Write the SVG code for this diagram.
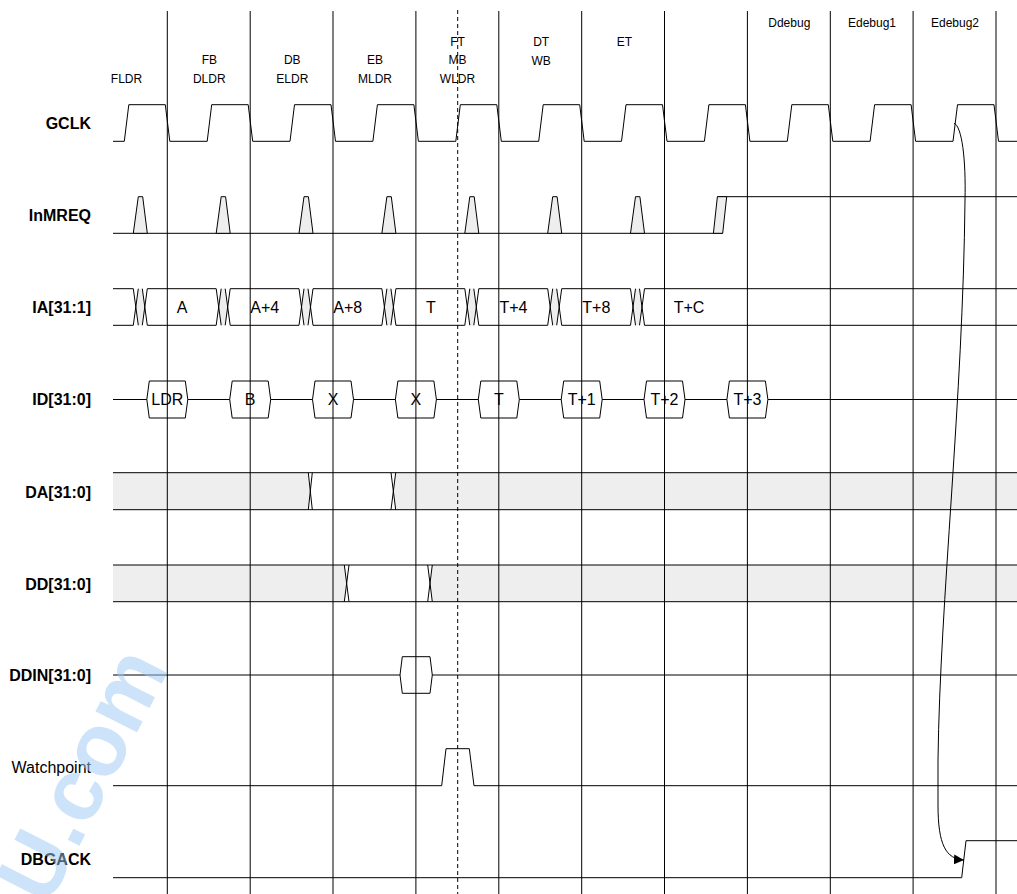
<svg xmlns="http://www.w3.org/2000/svg" xmlns:xlink="http://www.w3.org/1999/xlink" width="1017" height="894" viewBox="0 0 1017 894">
<style>
text{font-family:"Liberation Sans",Arial,Helvetica,sans-serif;fill:#000}
.lbl{font-size:16px;font-weight:bold;text-anchor:end}
.lbln{font-size:16px;text-anchor:end}
.val{font-size:16px;text-anchor:middle}
.top{font-size:12px;text-anchor:middle}
.w{fill:none;stroke:#000;stroke-width:1}
.gx{fill:#eeeeee;stroke:none}
.gp{fill:#eeeeee;stroke:#000;stroke-width:1}
.box{fill:#fff;stroke:#000;stroke-width:1}
.grid line{stroke:#000;stroke-width:1}
.dash{stroke:#000;stroke-width:1;stroke-dasharray:4 3}
.wm{font-size:88px;font-weight:bold;fill:#9bc8f5;opacity:0.5}
</style>
<defs>
<g id="iaX">
<polygon class="gx" points="5,0 9,0 11.5,18.3 9,36.6 5,36.6 2.5,18.3"/>
<path class="w" d="M0,0 L5,36.6 M5,0 L0,36.6 M9,0 L14,36.6 M14,0 L9,36.6"/>
</g>
<polygon id="pulse" class="gp" points="0,36.6 5,0 9.4,0 14,36.6"/>
<polygon id="idbox" class="box" points="0,18.5 2.5,0 38.5,0 41,18.5 38.5,37 2.5,37"/>
<marker id="arr" viewBox="0 0 10 10" refX="10" refY="5" markerWidth="10" markerHeight="10" markerUnits="userSpaceOnUse" orient="auto">
<path d="M0,0 L10,5 L0,10 z" fill="#000"/>
</marker>
</defs>
<rect width="1017" height="894" fill="#fff"/>

<g id="phase-labels">
<text class="top" x="126.5" y="83">FLDR</text>
<text class="top" x="209.3" y="64.2">FB</text>
<text class="top" x="209.3" y="83">DLDR</text>
<text class="top" x="292.3" y="64.2">DB</text>
<text class="top" x="292.3" y="83">ELDR</text>
<text class="top" x="375" y="64.2">EB</text>
<text class="top" x="375" y="83">MLDR</text>
<text class="top" x="457.5" y="45.7">FT</text>
<text class="top" x="457.5" y="64.2">MB</text>
<text class="top" x="457.5" y="83">WLDR</text>
<text class="top" x="541.2" y="45.7">DT</text>
<text class="top" x="541.2" y="64.8">WB</text>
<text class="top" x="624.5" y="45.7">ET</text>
<text class="top" x="789.3" y="27.3">Ddebug</text>
<text class="top" x="872" y="27.3">Edebug1</text>
<text class="top" x="955" y="27.3">Edebug2</text>
</g>

<g id="sig-GCLK">
<text class="lbl" x="91" y="129.3">GCLK</text>
<path class="w" d="M113,141.3 H124.3 L128.8,104.7 H165.3 L169.8,141.3 H207.2 L211.7,104.7 H248.2 L252.7,141.3 H290 L294.5,104.7 H331 L335.5,141.3 H372.9 L377.4,104.7 H413.9 L418.4,141.3 H455.8 L460.3,104.7 H496.8 L501.3,141.3 H538.7 L543.2,104.7 H579.7 L584.2,141.3 H621.5 L626,104.7 H662.5 L667,141.3 H704.4 L708.9,104.7 H745.4 L749.9,141.3 H787.3 L791.8,104.7 H828.3 L832.8,141.3 H870.1 L874.6,104.7 H911.1 L915.6,141.3 H953 L957.5,104.7 H994 L998.5,141.3 H1017"/>
</g>

<g id="sig-InMREQ">
<text class="lbl" x="91" y="221">InMREQ</text>
<path class="w" d="M113,233.3 H722.7 M717.4,196.7 H1017"/>
<use xlink:href="#pulse" href="#pulse" x="133.3" y="196.7"/>
<use xlink:href="#pulse" href="#pulse" x="216.2" y="196.7"/>
<use xlink:href="#pulse" href="#pulse" x="299" y="196.7"/>
<use xlink:href="#pulse" href="#pulse" x="381.9" y="196.7"/>
<use xlink:href="#pulse" href="#pulse" x="464.8" y="196.7"/>
<use xlink:href="#pulse" href="#pulse" x="547.7" y="196.7"/>
<use xlink:href="#pulse" href="#pulse" x="630.5" y="196.7"/>
<polygon class="gp" points="713.4,233.3 717.4,196.7 726.7,196.7 722.7,233.3"/>
</g>

<g id="sig-IA">
<text class="lbl" x="91" y="313.3">IA[31:1]</text>
<path class="w" d="M113,288.7 H133.3 M147.3,288.7 H216.2 M230.2,288.7 H299 M313,288.7 H381.9 M395.9,288.7 H464.8 M478.8,288.7 H547.7 M561.7,288.7 H630.5 M644.5,288.7 H1017 M113,325.3 H133.3 M147.3,325.3 H216.2 M230.2,325.3 H299 M313,325.3 H381.9 M395.9,325.3 H464.8 M478.8,325.3 H547.7 M561.7,325.3 H630.5 M644.5,325.3 H1017"/>
<use xlink:href="#iaX" href="#iaX" x="133.3" y="288.7"/>
<use xlink:href="#iaX" href="#iaX" x="216.2" y="288.7"/>
<use xlink:href="#iaX" href="#iaX" x="299" y="288.7"/>
<use xlink:href="#iaX" href="#iaX" x="381.9" y="288.7"/>
<use xlink:href="#iaX" href="#iaX" x="464.8" y="288.7"/>
<use xlink:href="#iaX" href="#iaX" x="547.7" y="288.7"/>
<use xlink:href="#iaX" href="#iaX" x="630.5" y="288.7"/>
<text class="val" x="182" y="313">A</text>
<text class="val" x="264.8" y="313">A+4</text>
<text class="val" x="347.7" y="313">A+8</text>
<text class="val" x="430.8" y="313">T</text>
<text class="val" x="513.5" y="313">T+4</text>
<text class="val" x="596.3" y="313">T+8</text>
<text class="val" x="689" y="313">T+C</text>
</g>

<g id="sig-ID">
<text class="lbl" x="91" y="405">ID[31:0]</text>
<path class="w" d="M113,399.5 H1017"/>
<use xlink:href="#idbox" href="#idbox" x="146.8" y="381"/>
<use xlink:href="#idbox" href="#idbox" x="229.7" y="381"/>
<use xlink:href="#idbox" href="#idbox" x="312.5" y="381"/>
<use xlink:href="#idbox" href="#idbox" x="395.4" y="381"/>
<use xlink:href="#idbox" href="#idbox" x="478.3" y="381"/>
<use xlink:href="#idbox" href="#idbox" x="561.2" y="381"/>
<use xlink:href="#idbox" href="#idbox" x="644" y="381"/>
<use xlink:href="#idbox" href="#idbox" x="726.9" y="381"/>
<text class="val" x="167.3" y="405.2">LDR</text>
<text class="val" x="250.2" y="405.2">B</text>
<text class="val" x="333" y="405.2">X</text>
<text class="val" x="415.9" y="405.2">X</text>
<text class="val" x="498.8" y="405.2">T</text>
<text class="val" x="581.7" y="405.2">T+1</text>
<text class="val" x="664.5" y="405.2">T+2</text>
<text class="val" x="747.4" y="405.2">T+3</text>
</g>

<g id="sig-DA">
<text class="lbl" x="91" y="498">DA[31:0]</text>
<polygon class="gx" points="113,472.7 308.3,472.7 310.3,491.2 308.3,509.7 113,509.7"/>
<polygon class="gx" points="395.7,472.7 1017,472.7 1017,509.7 395.7,509.7 393.35,491.2"/>
<path class="w" d="M113,472.7 H1017 M113,509.7 H1017 M308.3,472.7 L312.3,509.7 M312.3,472.7 L308.3,509.7 M391,472.7 L395.7,509.7 M395.7,472.7 L391,509.7"/>
</g>

<g id="sig-DD">
<text class="lbl" x="91" y="589.7">DD[31:0]</text>
<polygon class="gx" points="113,565 344.3,565 346.65,583.35 344.3,601.7 113,601.7"/>
<polygon class="gx" points="432.3,565 1017,565 1017,601.7 432.3,601.7 430,583.35"/>
<path class="w" d="M113,565 H1017 M113,601.7 H1017 M344.3,565 L349,601.7 M349,565 L344.3,601.7 M427.7,565 L432.3,601.7 M432.3,565 L427.7,601.7"/>
</g>

<g id="sig-DDIN">
<text class="lbl" x="91" y="680.7">DDIN[31:0]</text>
<path class="w" d="M113,675 H1017"/>
<polygon class="box" points="400,675 402.3,656.7 430,656.7 432.3,675 430,693.3 402.3,693.3"/>
</g>

<g id="sig-Watchpoint">
<text class="lbln" x="91" y="773">Watchpoint</text>
<path class="w" d="M113,785.7 H441.7 L446,748.7 H469.3 L474,785.7 H1017"/>
</g>

<g id="sig-DBGACK">
<text class="lbl" x="91" y="865.3">DBGACK</text>
<path class="w" d="M113,877.7 H961.7 L966,840.7 H1017"/>
</g>

<g id="grid" class="grid">
<line x1="167.3" y1="11" x2="167.3" y2="894"/>
<line x1="250.2" y1="11" x2="250.2" y2="894"/>
<line x1="333" y1="11" x2="333" y2="894"/>
<line x1="415.9" y1="11" x2="415.9" y2="894"/>
<line x1="498.8" y1="11" x2="498.8" y2="894"/>
<line x1="581.7" y1="11" x2="581.7" y2="894"/>
<line x1="664.5" y1="11" x2="664.5" y2="894"/>
<line x1="747.4" y1="11" x2="747.4" y2="894"/>
<line x1="830.3" y1="11" x2="830.3" y2="894"/>
<line x1="913.1" y1="11" x2="913.1" y2="894"/>
<line x1="996" y1="11" x2="996" y2="894"/>
<line class="dash" x1="457.7" y1="10" x2="457.7" y2="894"/>
</g>

<g id="connectors">
<path class="w" d="M954,123.3 C962,126 966,160 965,200 C963,400 940,600 938,760 L938,805 C938,845 946,859 964,860" marker-end="url(#arr)"/>
</g>

<text class="wm" transform="translate(47.8,907.7) rotate(-63)">U.com</text>
</svg>
